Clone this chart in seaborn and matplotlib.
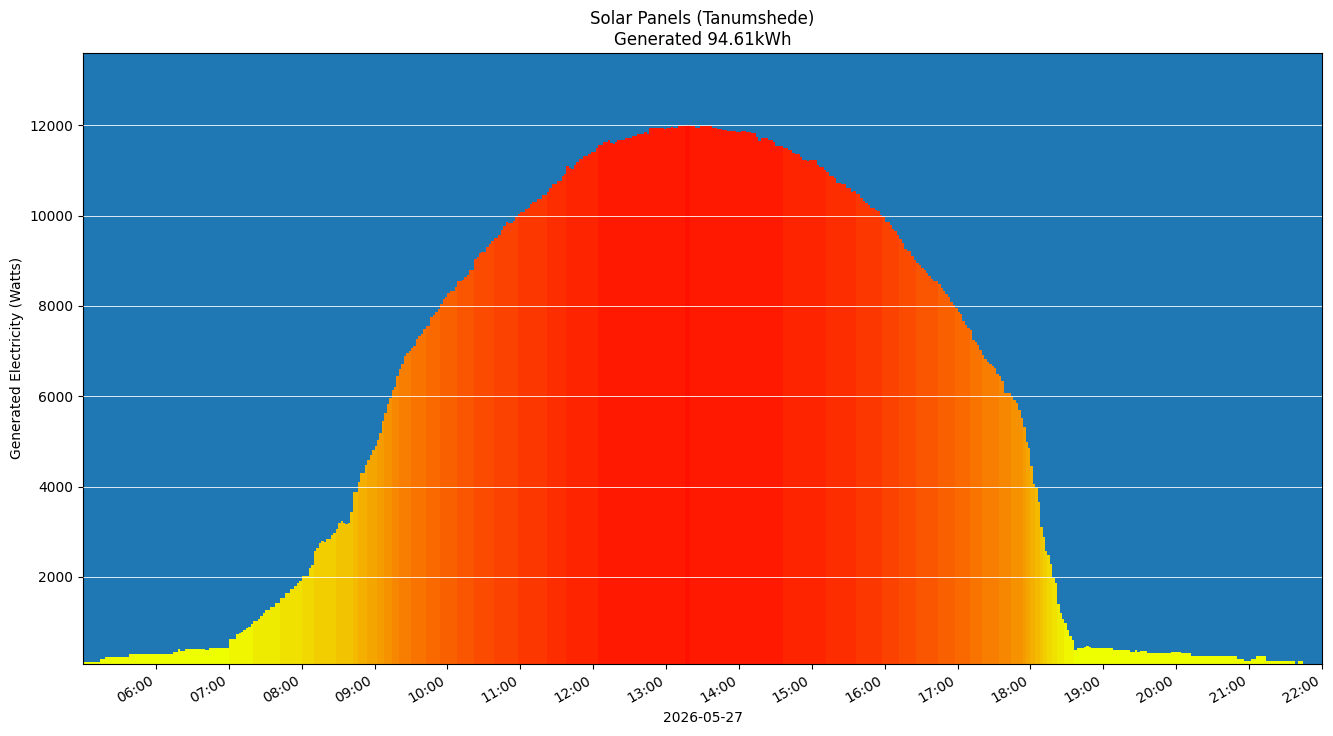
import numpy as np
import pandas as pd
import matplotlib
matplotlib.use('Agg')
import matplotlib.pyplot as plt
import matplotlib.dates as mdates
from matplotlib.colors import LinearSegmentedColormap
import seaborn as sns

# generated power in watts, one value per 2 minutes, grouped by hour
h05 = [120, 120, 120, 120, 120, 120, 120, 193, 193, 237, 237, 237, 237, 237, 237, 237, 237, 237, 237, 304,
       304, 304, 304, 304, 304, 304, 304, 304, 304, 304]
h06 = [304, 304, 304, 304, 304, 304, 304, 348, 348, 414, 355, 355, 414, 414, 414, 414, 414, 414, 414, 414,
       378, 378, 436, 436, 436, 436, 436, 436, 436, 436]
h07 = [636, 636, 636, 731, 768, 790, 835, 864, 901, 967, 1034, 1034, 1078, 1137, 1211, 1270, 1270, 1336, 1336, 1432,
       1432, 1528, 1528, 1653, 1653, 1742, 1742, 1794, 1875, 1919]
h08 = [2030, 2030, 2030, 2199, 2273, 2583, 2649, 2760, 2804, 2782, 2841, 2841, 2929, 2981, 3062, 3195, 3239, 3195, 3173, 3202,
       3438, 3888, 3888, 4109, 4308, 4308, 4478, 4596, 4707, 4817]
h09 = [4906, 5039, 5193, 5459, 5639, 5820, 5956, 6140, 6206, 6450, 6600, 6715, 6892, 6958, 6995, 7069, 7113, 7268, 7334, 7378,
       7481, 7555, 7555, 7747, 7798, 7872, 7924, 8042, 8145, 8204]
h10 = [8292, 8322, 8322, 8410, 8543, 8543, 8570, 8631, 8683, 8793, 8793, 9036, 9073, 9162, 9191, 9191, 9302, 9368, 9427, 9501,
       9501, 9560, 9678, 9766, 9854, 9825, 9825, 9884, 9958, 10031]
h11 = [10075, 10075, 10149, 10179, 10253, 10297, 10297, 10371, 10371, 10459, 10459, 10525, 10621, 10695, 10695, 10761, 10761,
       10872, 10931, 11093, 11063, 11034, 11122, 11188, 11262, 11262, 11329, 11329, 11373, 11402]
h12 = [11402, 11491, 11557, 11557, 11623, 11623, 11668, 11609, 11579, 11638, 11683, 11683, 11668, 11712, 11712, 11712, 11756,
       11756, 11800, 11800, 11800, 11859, 11815, 11934, 11934, 11934, 11934, 11934, 11934, 11919]
h13 = [11941, 11941, 11963, 11934, 11934, 11985, 11985, 11985, 12010, 12010, 11978, 11978, 11948, 11948, 11985, 11985, 11985,
       11978, 11978, 11934, 11934, 11919, 11919, 11897, 11897, 11875, 11875, 11875, 11875, 11853]
h14 = [11853, 11882, 11882, 11845, 11845, 11830, 11830, 11742, 11661, 11713, 11713, 11713, 11668, 11668, 11624, 11550, 11550,
       11536, 11491, 11491, 11447, 11447, 11388, 11359, 11359, 11300, 11226, 11226, 11211, 11226]
h15 = [11226, 11226, 11123, 11079, 11079, 11005, 10961, 10887, 10887, 10828, 10725, 10725, 10696, 10696, 10607, 10607, 10533,
       10548, 10474, 10474, 10386, 10327, 10268, 10224, 10165, 10165, 10121, 10091, 10017, 9959]
h16 = [9855, 9855, 9796, 9708, 9664, 9575, 9487, 9384, 9251, 9207, 9207, 9104, 9015, 8941, 8912, 8838, 8794, 8735, 8661, 8602,
       8543, 8543, 8484, 8396, 8322, 8263, 8190, 8079, 8028, 7954]
h17 = [7874, 7815, 7667, 7579, 7520, 7460, 7254, 7194, 7135, 7032, 6910, 6825, 6766, 6721, 6677, 6618, 6500, 6441, 6337, 6071,
       6071, 6071, 5982, 5923, 5850, 5702, 5524, 5318, 4977, 4844]
h18 = [4460, 4061, 3958, 3662, 3115, 2894, 2568, 2494, 2287, 1977, 1859, 1401, 1209, 1076, 972, 824, 691, 603, 381, 425,
       425, 425, 446, 468, 446, 424, 424, 424, 424, 424]
h19 = [424, 424, 424, 424, 373, 373, 373, 387, 387, 387, 387, 329, 329, 387, 329, 358, 358, 358, 321, 321,
       321, 321, 321, 321, 321, 321, 321, 321, 329, 329]
h20 = [329, 329, 321, 321, 321, 321, 255, 255, 255, 255, 255, 255, 255, 255, 255, 255, 255, 255, 255, 255,
       255, 255, 255, 255, 255, 182, 182, 182, 138, 138]
h21 = [138, 182, 182, 248, 248, 248, 248, 138, 138, 138, 138, 138, 138, 138, 138, 138, 138, 138, 138, 80,
       138, 138]

day = '2026-05-27'
watts = np.array(h05 + h06 + h07 + h08 + h09 + h10 + h11 + h12 + h13 + h14 + h15 + h16 + h17 + h18 + h19 + h20 + h21)

# bin edges every 2 minutes from 05:00
edges = pd.date_range(day + ' 05:00', periods=len(watts) + 1, freq='2min')
edges_num = mdates.date2num(edges.to_pydatetime())
centers = (edges_num[:-1] + edges_num[1:]) / 2
df = pd.DataFrame({'time': centers, 'watts': watts})

fig, ax = plt.subplots(figsize=(13.33, 7.36), dpi=100)
sns.histplot(data=df, x='time', weights='watts', bins=list(edges_num), ax=ax, alpha=1, linewidth=0)

# colour each bar by 500 W step, yellow -> red
cmap = LinearSegmentedColormap.from_list('sun', ['#eeff00', '#ff1000'])
for patch, w in zip(ax.patches, watts):
    step = min(int(w // 500), 24)
    patch.set_facecolor(cmap(step / 24))
    patch.set_edgecolor('none')

ax.set_facecolor('#1f77b4')
ax.set_xlim(mdates.date2num(pd.Timestamp(day + ' 05:00').to_pydatetime()),
            mdates.date2num(pd.Timestamp(day + ' 22:00').to_pydatetime()))
ax.set_ylim(75, 13600)
ax.set_yticks([2000, 4000, 6000, 8000, 10000, 12000])
ax.xaxis.set_major_locator(mdates.HourLocator(byhour=range(6, 23)))
ax.xaxis.set_major_formatter(mdates.DateFormatter('%H:%M'))
ax.yaxis.grid(True, color='white', linewidth=0.7, alpha=0.85)
ax.xaxis.grid(False)
ax.set_axisbelow(False)
plt.setp(ax.get_xticklabels(), rotation=30, ha='right')

ax.set_xlabel(day)
ax.set_ylabel('Generated Electricity (Watts)')
ax.set_title('Solar Panels (Tanumshede)\nGenerated 94.61kWh')

fig.subplots_adjust(left=0.0623, right=0.9917, top=0.928, bottom=0.098)
fig.savefig('out.png', dpi=100)
